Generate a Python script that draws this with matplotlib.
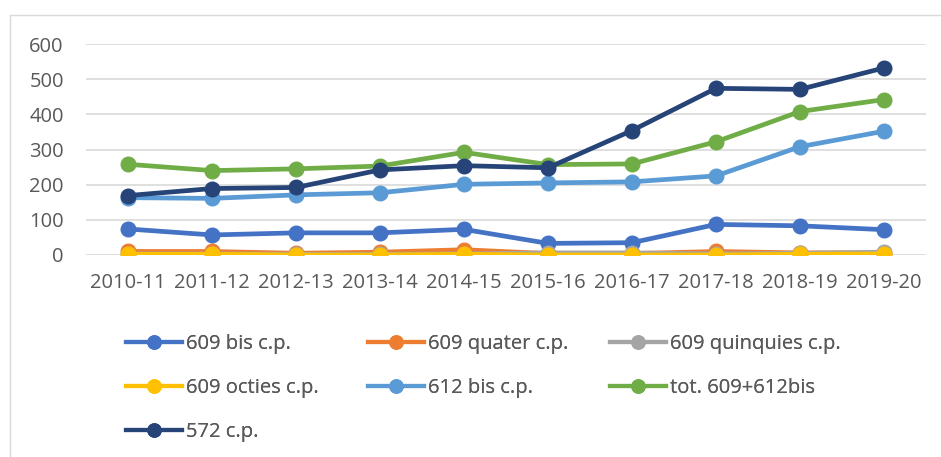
import matplotlib
matplotlib.use("Agg")
import matplotlib.pyplot as plt
from matplotlib.patches import Rectangle
from matplotlib.lines import Line2D

plt.rcParams['font.family'] = ['Open Sans', 'DejaVu Sans']

years = ["2010-11", "2011-12", "2012-13", "2013-14", "2014-15",
         "2015-16", "2016-17", "2017-18", "2018-19", "2019-20"]

bis_609 = [74, 57, 63, 63, 73, 33, 35, 87, 83, 72]
quater_609 = [10, 10, 5, 8, 15, 4, 4, 10, 6, 6]
quinquies_609 = [3, 3, 2, 2, 3, 6, 6, 3, 5, 8]
octies_609 = [2, 2, 0, 0, 2, 0, 0, 0, 2, 3]
bis_612 = [163, 161, 171, 177, 201, 205, 208, 225, 308, 352]
tot_609_612 = [258, 240, 245, 253, 292, 257, 259, 322, 408, 442]
cp_572 = [169, 189, 192, 242, 254, 248, 354, 474, 471, 532]

series = [
    ("609 bis c.p.", bis_609, "#4472c4"),
    ("609 quater c.p.", quater_609, "#ed7d31"),
    ("609 quinquies c.p.", quinquies_609, "#a5a5a5"),
    ("609 octies c.p.", octies_609, "#ffc000"),
    ("612 bis c.p.", bis_612, "#5b9bd5"),
    ("tot. 609+612bis", tot_609_612, "#70ad47"),
    ("572 c.p.", cp_572, "#264478"),
]

W, H = 941, 457
fig = plt.figure(figsize=(W / 100, H / 100), dpi=100)
fig.patches.append(Rectangle((10 / W, -0.1), 1.2, 1.1 - 15 / H, transform=fig.transFigure,
                             fill=False, edgecolor="#d9d9d9", linewidth=1.0))
ax = fig.add_axes([86 / W, (H - 255) / H, 840 / W, 211 / H])

x = list(range(len(years)))
handles = []
for label, vals, color in series:
    h, = ax.plot(x, vals, color=color, linewidth=3.4, marker="o", markersize=10.5,
                 label=label, solid_capstyle="round")
    handles.append(h)

ax.set_xlim(-0.5, len(years) - 0.5)
ax.set_ylim(0, 600)
ax.set_yticks([0, 100, 200, 300, 400, 500, 600])
ax.set_xticks(x)
ax.set_xticklabels(years)
ax.grid(axis="y", color="#d9d9d9", linewidth=1.2)
ax.set_axisbelow(True)
for s in ax.spines.values():
    s.set_visible(False)
ax.tick_params(axis="both", length=0, labelsize=14.5, colors="#595959")
ax.tick_params(axis="x", pad=13)
ax.tick_params(axis="y", pad=16)

# three legend columns, laid out row by row like the original
columns = [[0, 3, 6], [1, 4], [2, 5]]
col_x = [126, 368, 610]
for idxs, cx in zip(columns, col_x):
    hs = [Line2D([], [], color=series[i][2], linewidth=3.0, marker="o", markersize=9.5)
          for i in idxs]
    leg = fig.legend(hs, [series[i][0] for i in idxs],
                     loc="upper left", bbox_to_anchor=(cx / W, 1 - 334 / H),
                     frameon=False, fontsize=14.5, labelcolor="#595959",
                     handlelength=2.8, handletextpad=0.2, labelspacing=1.2,
                     borderpad=0.0, borderaxespad=0.0)
    fig.add_artist(leg)

fig.savefig("out.png", dpi=100)
